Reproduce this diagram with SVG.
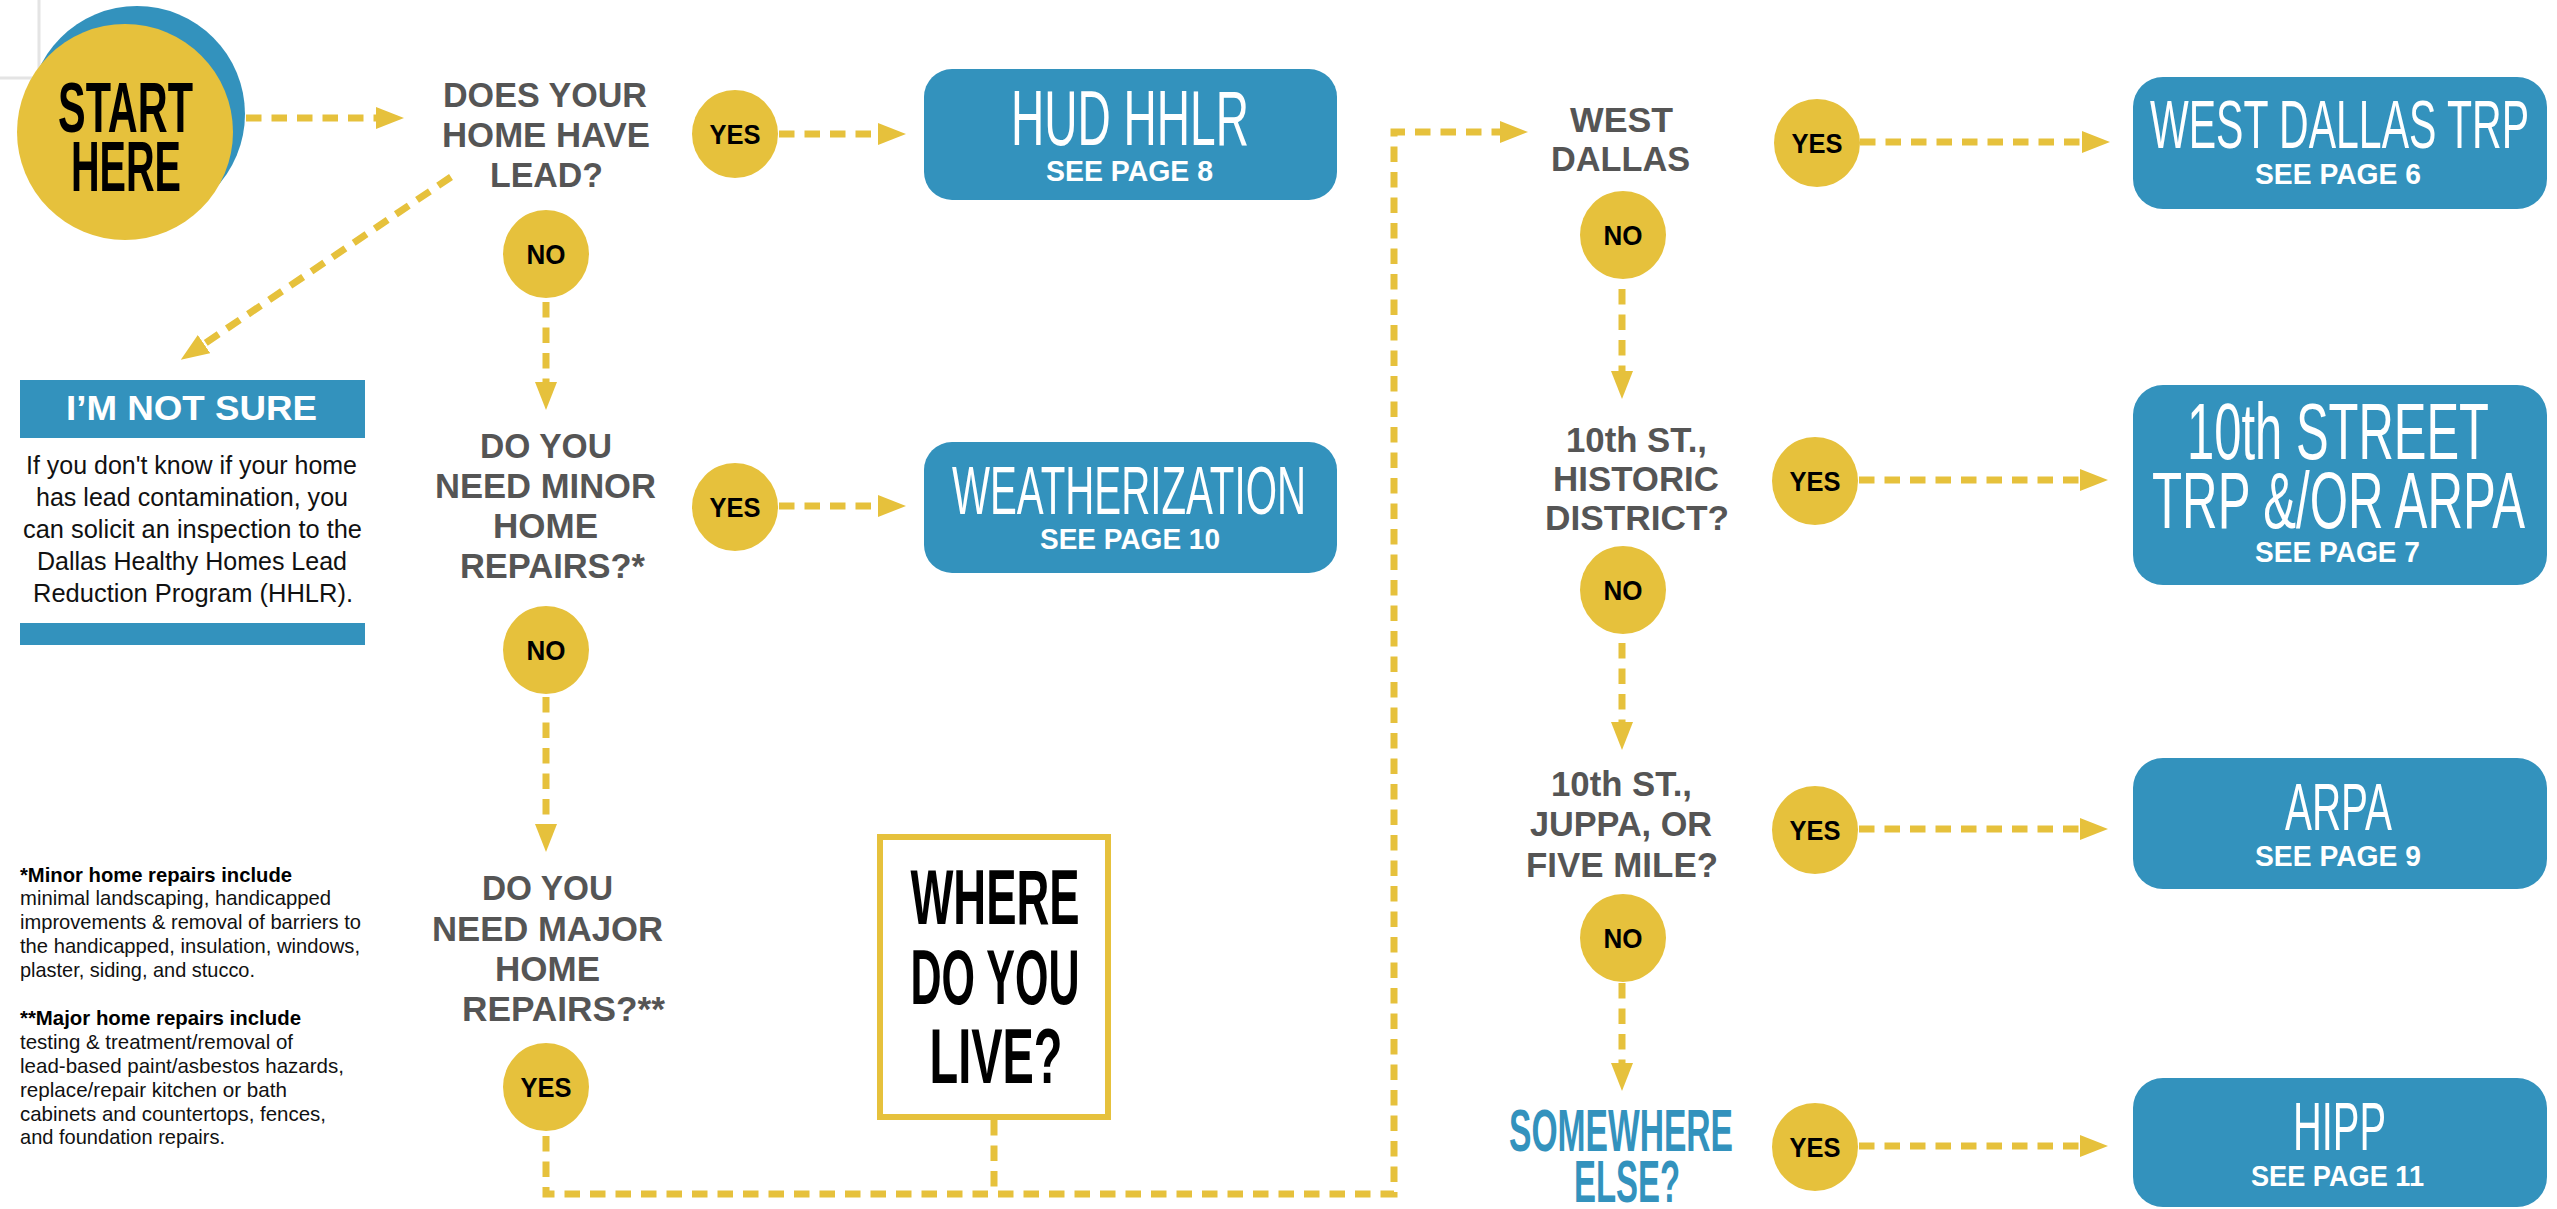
<svg xmlns="http://www.w3.org/2000/svg" width="2557" height="1209" viewBox="0 0 2557 1209">
<style>
text{font-family:"Liberation Sans",Arial,sans-serif}
.q{font-weight:700;font-size:35px;fill:#555555;text-anchor:middle}
.yn{font-weight:700;font-size:27px;fill:#000;text-anchor:middle}
.ttl{font-weight:400;fill:#fff;text-anchor:middle}
.see{font-weight:700;font-size:29px;fill:#fff;text-anchor:middle}
.hv{font-weight:700;fill:#000;text-anchor:middle}
.par{font-weight:400;font-size:26.5px;fill:#111;text-anchor:middle}
.fn{font-weight:400;font-size:21px;fill:#111}
.fnb{font-weight:700;font-size:21px;fill:#000}
.yc{fill:#E6C13C}
.box{fill:#3392BD}
.conn{fill:none;stroke:#E6C13C;stroke-width:7;stroke-dasharray:15.5 10}
.arr{marker-end:url(#ah)}
</style>
<defs>
<marker id="ah" viewBox="0 -12 28 24" markerWidth="28" markerHeight="24" refX="0" refY="0" orient="auto" markerUnits="userSpaceOnUse">
<path d="M0,-11 L28,0 L0,11 z" fill="#E6C13C"/>
</marker>
</defs>
<rect width="2557" height="1209" fill="#fff"/>
<path d="M39,0 V78 H0" fill="none" stroke="#e4e4e4" stroke-width="3"/>

<g id="connectors">
<path class="conn arr" d="M246,118 H376"/>
<path class="conn arr" d="M451,177 L204,344"/>
<path class="conn arr" d="M779,134 H878"/>
<path class="conn arr" d="M546,302 V382"/>
<path class="conn arr" d="M779,506 H878"/>
<path class="conn arr" d="M546,697 V824"/>
<path class="conn arr" d="M546,1136 V1194 H1394 V132 H1500"/>
<path class="conn" d="M994,1120 V1194"/>
<path class="conn arr" d="M1860,142 H2082"/>
<path class="conn arr" d="M1622,289 V371"/>
<path class="conn arr" d="M1859,480 H2080"/>
<path class="conn arr" d="M1622,643 V722"/>
<path class="conn arr" d="M1859,829 H2080"/>
<path class="conn arr" d="M1622,983 V1063"/>
<path class="conn arr" d="M1859,1146 H2080"/>
</g>

<g id="start">
<circle cx="137" cy="114" r="108" fill="#3392BD"/>
<circle cx="125" cy="132" r="108" class="yc"/>
<text class="hv" transform="translate(125.5,132) scale(0.57,1)" font-size="70" textLength="236.8" lengthAdjust="spacingAndGlyphs">START</text>
<text class="hv" transform="translate(126,191) scale(0.57,1)" font-size="70" textLength="193" lengthAdjust="spacingAndGlyphs">HERE</text>
</g>

<g id="q-lead">
<text class="q" x="545" y="107" textLength="204" lengthAdjust="spacingAndGlyphs">DOES YOUR</text>
<text class="q" x="546" y="147" textLength="208" lengthAdjust="spacingAndGlyphs">HOME HAVE</text>
<text class="q" x="546.5" y="187" textLength="113" lengthAdjust="spacingAndGlyphs">LEAD?</text>
</g>

<g id="yes-lead"><ellipse cx="735" cy="134" rx="43" ry="44" class="yc"/><text class="yn" x="735" y="144" textLength="51" lengthAdjust="spacingAndGlyphs">YES</text></g>
<g id="no-lead"><ellipse cx="546" cy="254" rx="43" ry="44" class="yc"/><text class="yn" x="546" y="264" textLength="39" lengthAdjust="spacingAndGlyphs">NO</text></g>

<g id="hud">
<rect class="box" x="924" y="69" width="413" height="131" rx="28"/>
<text class="ttl" transform="translate(1130,145) scale(0.6,1)" font-size="77" textLength="396.7" lengthAdjust="spacingAndGlyphs">HUD HHLR</text>
<text class="see" x="1129.5" y="181" textLength="167" lengthAdjust="spacingAndGlyphs">SEE PAGE 8</text>
</g>

<g id="not-sure">
<rect class="box" x="20" y="380" width="345" height="58"/>
<text x="191.5" y="420" font-weight="700" font-size="35" fill="#fff" text-anchor="middle" textLength="251" lengthAdjust="spacingAndGlyphs">I’M NOT SURE</text>
<text class="par" x="191.5" y="474" textLength="331" lengthAdjust="spacingAndGlyphs">If you don't know if your home</text>
<text class="par" x="192" y="506" textLength="312" lengthAdjust="spacingAndGlyphs">has lead contamination, you</text>
<text class="par" x="192.5" y="538" textLength="339" lengthAdjust="spacingAndGlyphs">can solicit an inspection to the</text>
<text class="par" x="192" y="570" textLength="310" lengthAdjust="spacingAndGlyphs">Dallas Healthy Homes Lead</text>
<text class="par" x="193" y="602" textLength="320" lengthAdjust="spacingAndGlyphs">Reduction Program (HHLR).</text>
<rect class="box" x="20" y="623" width="345" height="22"/>
</g>

<g id="q-minor">
<text class="q" x="546" y="458" textLength="132" lengthAdjust="spacingAndGlyphs">DO YOU</text>
<text class="q" x="545.5" y="498" textLength="221" lengthAdjust="spacingAndGlyphs">NEED MINOR</text>
<text class="q" x="545.5" y="538" textLength="105" lengthAdjust="spacingAndGlyphs">HOME</text>
<text class="q" x="552.5" y="578" textLength="185" lengthAdjust="spacingAndGlyphs">REPAIRS?*</text>
</g>
<g id="yes-minor"><ellipse cx="735" cy="507" rx="43" ry="44" class="yc"/><text class="yn" x="735" y="517" textLength="51" lengthAdjust="spacingAndGlyphs">YES</text></g>
<g id="no-minor"><ellipse cx="546" cy="650" rx="43" ry="44" class="yc"/><text class="yn" x="546" y="660" textLength="39" lengthAdjust="spacingAndGlyphs">NO</text></g>

<g id="weatherization">
<rect class="box" x="924" y="442" width="413" height="131" rx="28"/>
<text class="ttl" transform="translate(1129,514) scale(0.6,1)" font-size="68" textLength="590" lengthAdjust="spacingAndGlyphs">WEATHERIZATION</text>
<text class="see" x="1130" y="549" textLength="180" lengthAdjust="spacingAndGlyphs">SEE PAGE 10</text>
</g>

<g id="footnotes">
<text class="fnb" x="20" y="882" textLength="272" lengthAdjust="spacingAndGlyphs">*Minor home repairs include</text>
<text class="fn" x="20" y="905" textLength="311" lengthAdjust="spacingAndGlyphs">minimal landscaping, handicapped</text>
<text class="fn" x="20" y="929" textLength="341" lengthAdjust="spacingAndGlyphs">improvements &amp; removal of barriers to</text>
<text class="fn" x="20" y="953" textLength="340" lengthAdjust="spacingAndGlyphs">the handicapped, insulation, windows,</text>
<text class="fn" x="20" y="977" textLength="235" lengthAdjust="spacingAndGlyphs">plaster, siding, and stucco.</text>
<text class="fnb" x="20" y="1025" textLength="281" lengthAdjust="spacingAndGlyphs">**Major home repairs include</text>
<text class="fn" x="20" y="1049" textLength="273" lengthAdjust="spacingAndGlyphs">testing &amp; treatment/removal of</text>
<text class="fn" x="20" y="1073" textLength="324" lengthAdjust="spacingAndGlyphs">lead-based paint/asbestos hazards,</text>
<text class="fn" x="20" y="1097" textLength="267" lengthAdjust="spacingAndGlyphs">replace/repair kitchen or bath</text>
<text class="fn" x="20" y="1121" textLength="306" lengthAdjust="spacingAndGlyphs">cabinets and countertops, fences,</text>
<text class="fn" x="20" y="1144" textLength="205" lengthAdjust="spacingAndGlyphs">and foundation repairs.</text>
</g>

<g id="q-major">
<text class="q" x="547.5" y="900" textLength="131" lengthAdjust="spacingAndGlyphs">DO YOU</text>
<text class="q" x="547.5" y="941" textLength="231" lengthAdjust="spacingAndGlyphs">NEED MAJOR</text>
<text class="q" x="547.5" y="981" textLength="105" lengthAdjust="spacingAndGlyphs">HOME</text>
<text class="q" x="563.5" y="1021" textLength="203" lengthAdjust="spacingAndGlyphs">REPAIRS?**</text>
</g>
<g id="yes-major"><ellipse cx="546" cy="1087" rx="43" ry="44" class="yc"/><text class="yn" x="546" y="1097" textLength="51" lengthAdjust="spacingAndGlyphs">YES</text></g>

<g id="where">
<rect x="880" y="837" width="228" height="280" fill="#fff" stroke="#E6C13C" stroke-width="6"/>
<text class="hv" transform="translate(995,924) scale(0.57,1)" font-size="78" textLength="296.5" lengthAdjust="spacingAndGlyphs">WHERE</text>
<text class="hv" transform="translate(995,1004) scale(0.57,1)" font-size="78" textLength="296.5" lengthAdjust="spacingAndGlyphs">DO YOU</text>
<text class="hv" transform="translate(996,1083) scale(0.57,1)" font-size="78" textLength="233.3" lengthAdjust="spacingAndGlyphs">LIVE?</text>
</g>

<g id="q-west">
<text class="q" x="1621.5" y="132" textLength="103" lengthAdjust="spacingAndGlyphs">WEST</text>
<text class="q" x="1620.5" y="171" textLength="139" lengthAdjust="spacingAndGlyphs">DALLAS</text>
</g>
<g id="yes-west"><ellipse cx="1817" cy="143" rx="43" ry="44" class="yc"/><text class="yn" x="1817" y="153" textLength="51" lengthAdjust="spacingAndGlyphs">YES</text></g>
<g id="no-west"><ellipse cx="1623" cy="235" rx="43" ry="44" class="yc"/><text class="yn" x="1623" y="245" textLength="39" lengthAdjust="spacingAndGlyphs">NO</text></g>
<g id="wd-trp">
<rect class="box" x="2133" y="77" width="414" height="132" rx="30"/>
<text class="ttl" transform="translate(2339.5,148) scale(0.6,1)" font-size="68" textLength="631.7" lengthAdjust="spacingAndGlyphs">WEST DALLAS TRP</text>
<text class="see" x="2338" y="184" textLength="166" lengthAdjust="spacingAndGlyphs">SEE PAGE 6</text>
</g>

<g id="q-historic">
<text class="q" x="1636.5" y="452" textLength="141" lengthAdjust="spacingAndGlyphs">10th ST.,</text>
<text class="q" x="1636" y="491" textLength="166" lengthAdjust="spacingAndGlyphs">HISTORIC</text>
<text class="q" x="1637" y="530" textLength="184" lengthAdjust="spacingAndGlyphs">DISTRICT?</text>
</g>
<g id="yes-historic"><ellipse cx="1815" cy="481" rx="43" ry="44" class="yc"/><text class="yn" x="1815" y="491" textLength="51" lengthAdjust="spacingAndGlyphs">YES</text></g>
<g id="no-historic"><ellipse cx="1623" cy="590" rx="43" ry="44" class="yc"/><text class="yn" x="1623" y="600" textLength="39" lengthAdjust="spacingAndGlyphs">NO</text></g>
<g id="tenth-street">
<rect class="box" x="2133" y="385" width="414" height="200" rx="30"/>
<text class="ttl" transform="translate(2338,459) scale(0.6,1)" font-size="80" textLength="503.3" lengthAdjust="spacingAndGlyphs">10th STREET</text>
<text class="ttl" transform="translate(2338.5,528) scale(0.6,1)" font-size="80" textLength="621.7" lengthAdjust="spacingAndGlyphs">TRP &amp;/OR ARPA</text>
<text class="see" x="2337.5" y="562" textLength="165" lengthAdjust="spacingAndGlyphs">SEE PAGE 7</text>
</g>

<g id="q-juppa">
<text class="q" x="1621.5" y="796" textLength="141" lengthAdjust="spacingAndGlyphs">10th ST.,</text>
<text class="q" x="1621" y="836" textLength="182" lengthAdjust="spacingAndGlyphs">JUPPA, OR</text>
<text class="q" x="1622" y="877" textLength="192" lengthAdjust="spacingAndGlyphs">FIVE MILE?</text>
</g>
<g id="yes-juppa"><ellipse cx="1815" cy="830" rx="43" ry="44" class="yc"/><text class="yn" x="1815" y="840" textLength="51" lengthAdjust="spacingAndGlyphs">YES</text></g>
<g id="no-juppa"><ellipse cx="1623" cy="938" rx="43" ry="44" class="yc"/><text class="yn" x="1623" y="948" textLength="39" lengthAdjust="spacingAndGlyphs">NO</text></g>
<g id="arpa">
<rect class="box" x="2133" y="758" width="414" height="131" rx="30"/>
<text class="ttl" transform="translate(2338.5,830) scale(0.6,1)" font-size="66" textLength="178.3" lengthAdjust="spacingAndGlyphs">ARPA</text>
<text class="see" x="2338" y="866" textLength="166" lengthAdjust="spacingAndGlyphs">SEE PAGE 9</text>
</g>

<g id="q-somewhere">
<text transform="translate(1621,1151) scale(0.57,1)" font-weight="700" font-size="59" fill="#3392BD" text-anchor="middle" textLength="393" lengthAdjust="spacingAndGlyphs">SOMEWHERE</text>
<text transform="translate(1627,1202) scale(0.57,1)" font-weight="700" font-size="59" fill="#3392BD" text-anchor="middle" textLength="186" lengthAdjust="spacingAndGlyphs">ELSE?</text>
</g>
<g id="yes-somewhere"><ellipse cx="1815" cy="1147" rx="43" ry="44" class="yc"/><text class="yn" x="1815" y="1157" textLength="51" lengthAdjust="spacingAndGlyphs">YES</text></g>
<g id="hipp">
<rect class="box" x="2133" y="1078" width="414" height="129" rx="30"/>
<text class="ttl" transform="translate(2339.5,1150) scale(0.6,1)" font-size="68" textLength="155" lengthAdjust="spacingAndGlyphs">HIPP</text>
<text class="see" x="2337.5" y="1186" textLength="173" lengthAdjust="spacingAndGlyphs">SEE PAGE 11</text>
</g>
</svg>
